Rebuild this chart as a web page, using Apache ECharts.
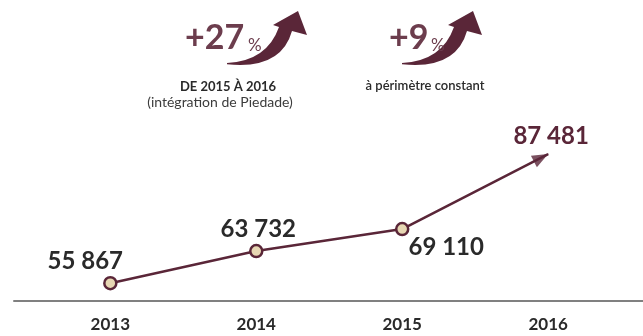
<!DOCTYPE html>
<html>
<head>
<meta charset="utf-8">
<script src="https://cdn.jsdelivr.net/npm/echarts@6/dist/echarts.min.js"></script>
<style>
  html, body { margin: 0; padding: 0; background: #ffffff; }
  #chart { width: 643px; height: 336px; }
</style>
</head>
<body>
<div id="chart"></div>
<script>
// Revenue by year
const years = [2013, 2014, 2015, 2016];
const revenue = [55867, 63732, 69110, 87481];
const yearLabels = ['2013', '2014', '2015', '2016'];

// Growth call-outs above the line
const growthValues = ['+27', '+9'];
const growthUnit = '%';
const growthNotes = ['DE 2015 À 2016', '(intégration de Piedade)', 'à périmètre constant'];

const MAROON = '#5a2638';
const GROWTH_TEXT = '#6c3d4d';
const DARK = '#2a2a2a';
const BEIGE = '#e7d7b3';
const FONT = 'Lato, "Open Sans", sans-serif';

// where each value label sits relative to its point
const labelShift = [[-25, -22], [2, -22], [44, 18], [3, -18]];

function fmt(v) {
  return String(v).replace(/\B(?=(\d{3})+(?!\d))/g, ' ');
}

// curved "growth" arrow, local coordinates with the tail at the origin
echarts.graphic.registerShape('curvedArrow', echarts.graphic.extendShape({
  shape: {},
  buildPath(ctx) {
    ctx.moveTo(0, 0);
    ctx.quadraticCurveTo(40, -2, 52, -36);
    ctx.lineTo(46, -38);
    ctx.lineTo(71, -52);
    ctx.lineTo(80, -28);
    ctx.lineTo(65, -32);
    ctx.quadraticCurveTo(54, 7, 0, 1.2);
    ctx.closePath();
  }
}));

const lineData = years.map((y, i) => {
  const last = i === years.length - 1;
  return {
    value: [y, revenue[i]],
    symbol: 'circle',
    symbolSize: last ? 1 : 12,
    itemStyle: last ? { color: MAROON, borderWidth: 0 } : undefined,
    label: {
      show: true,
      position: 'inside',
      offset: labelShift[i],
      color: last ? MAROON : DARK,
      formatter: () => fmt(revenue[i])
    }
  };
});

const option = {
  animation: false,
  backgroundColor: '#ffffff',
  grid: { left: 14, right: 0, top: 103, bottom: 35, containLabel: false },
  xAxis: {
    type: 'value',
    min: 2012.34,
    max: 2016.65,
    axisLine: { show: true, lineStyle: { color: '#808080', width: 2 } },
    axisTick: { show: false },
    splitLine: { show: false },
    axisLabel: {
      customValues: years,
      formatter: (v) => yearLabels[years.indexOf(Math.round(v))] || '',
      color: DARK,
      fontFamily: FONT,
      fontWeight: 'bold',
      fontSize: 17,
      margin: 15
    }
  },
  yAxis: {
    type: 'value',
    min: 51500,
    max: 100000,
    show: false
  },
  series: [
    {
      type: 'line',
      data: lineData,
      lineStyle: { color: MAROON, width: 2.5 },
      itemStyle: { color: BEIGE, borderColor: MAROON, borderWidth: 2.5 },
      label: {
        fontFamily: FONT,
        fontWeight: 'bold',
        fontSize: 24
      },
      emphasis: { disabled: true },
      z: 2
    },
    {
      // arrowhead at the end of the line
      type: 'scatter',
      data: [[years[3], revenue[3]]],
      symbol: 'triangle',
      symbolSize: [13, 16],
      itemStyle: { color: MAROON },
      label: { show: false },
      emphasis: { disabled: true },
      z: 3
    }
  ],
  graphic: [
    { type: 'curvedArrow', x: 227, y: 63, style: { fill: MAROON } },
    { type: 'curvedArrow', x: 402, y: 63, style: { fill: MAROON } },
    { type: 'text', x: 185, y: 38, style: { text: growthValues[0], font: 'bold 34px ' + FONT, fill: GROWTH_TEXT, align: 'left', verticalAlign: 'middle' } },
    { type: 'text', x: 248, y: 46, style: { text: growthUnit, font: 'normal 17px ' + FONT, fill: GROWTH_TEXT, align: 'left', verticalAlign: 'middle' } },
    { type: 'text', x: 389, y: 38, style: { text: growthValues[1], font: 'bold 34px ' + FONT, fill: GROWTH_TEXT, align: 'left', verticalAlign: 'middle' } },
    { type: 'text', x: 431, y: 46, style: { text: growthUnit, font: 'normal 17px ' + FONT, fill: GROWTH_TEXT, align: 'left', verticalAlign: 'middle' } },
    { type: 'text', x: 228, y: 87, style: { text: growthNotes[0], font: 'bold 13px ' + FONT, fill: DARK, align: 'center', verticalAlign: 'middle' } },
    { type: 'text', x: 220, y: 102, style: { text: growthNotes[1], font: 'normal 14px ' + FONT, fill: '#3c3c3c', align: 'center', verticalAlign: 'middle' } },
    { type: 'text', x: 425, y: 86, style: { text: growthNotes[2], font: '600 13px ' + FONT, fill: DARK, align: 'center', verticalAlign: 'middle' } }
  ]
};

const chart = echarts.init(document.getElementById('chart'), null, { renderer: 'canvas' });
chart.setOption(option);

// orient the arrowhead along the last segment, tip on the final point
const pA = chart.convertToPixel({ seriesIndex: 0 }, [years[2], revenue[2]]);
const pB = chart.convertToPixel({ seriesIndex: 0 }, [years[3], revenue[3]]);
const ang = Math.atan2(pA[1] - pB[1], pB[0] - pA[0]);
const headLen = 16;
chart.setOption({
  series: [
    {},
    {
      symbolRotate: ang * 180 / Math.PI - 90,
      symbolOffset: [-Math.cos(ang) * headLen / 2, Math.sin(ang) * headLen / 2]
    }
  ]
});
</script>
</body>
</html>
